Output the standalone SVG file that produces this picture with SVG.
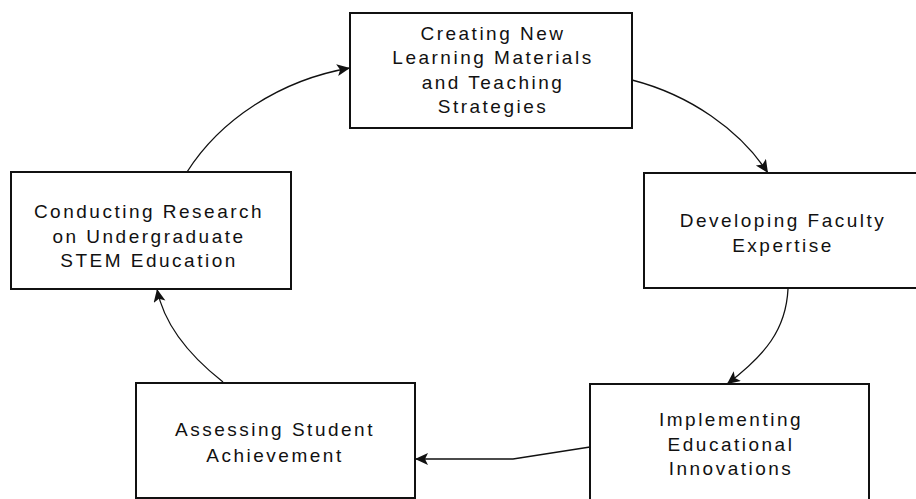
<svg xmlns="http://www.w3.org/2000/svg" width="916" height="499" viewBox="0 0 916 499">
<style>
.box{fill:#fff;stroke:#111;stroke-width:2}
.t{font-family:"Liberation Sans",Arial,sans-serif;font-size:19px;letter-spacing:2.5px;fill:#111;text-anchor:middle}
.c{fill:none;stroke:#111;stroke-width:1.3}
</style>
<defs>
<marker id="ah" markerUnits="userSpaceOnUse" markerWidth="16" markerHeight="14" refX="13" refY="6" orient="auto">
<path d="M0,0 L13,6 L0,12 L3,6 z" fill="#111"/>
</marker>
</defs>
<rect width="916" height="499" fill="#fff"/>
<g id="connectors">
<path class="c" d="M632,80 C690,95 740,130 768,173" marker-end="url(#ah)"/>
<path class="c" d="M788,289 C786,330 765,355 727,384" marker-end="url(#ah)"/>
<path class="c" d="M590,447 L513,459 L415,459" marker-end="url(#ah)"/>
<path class="c" d="M223,382 C195,360 165,330 157,289" marker-end="url(#ah)"/>
<path class="c" d="M187,172 C220,120 280,80 350,68" marker-end="url(#ah)"/>
</g>
<g id="n1">
<rect class="box" x="350" y="13" width="282" height="115"/>
<text class="t" x="493" y="40">Creating New</text>
<text class="t" x="493" y="64">Learning Materials</text>
<text class="t" x="493" y="88.5">and Teaching</text>
<text class="t" x="493" y="113">Strategies</text>
</g>
<g id="n2">
<rect class="box" x="644" y="173" width="290" height="115"/>
<text class="t" x="783" y="227">Developing Faculty</text>
<text class="t" x="783" y="252">Expertise</text>
</g>
<g id="n3">
<rect class="box" x="590" y="384" width="279" height="130"/>
<text class="t" x="731" y="426">Implementing</text>
<text class="t" x="731" y="451">Educational</text>
<text class="t" x="731" y="475">Innovations</text>
</g>
<g id="n4">
<rect class="box" x="136" y="383" width="279" height="115"/>
<text class="t" x="275" y="436">Assessing Student</text>
<text class="t" x="275" y="462">Achievement</text>
</g>
<g id="n5">
<rect class="box" x="11" y="172" width="280" height="117"/>
<text class="t" x="149" y="218">Conducting Research</text>
<text class="t" x="149" y="243">on Undergraduate</text>
<text class="t" x="149" y="267">STEM Education</text>
</g>
</svg>
